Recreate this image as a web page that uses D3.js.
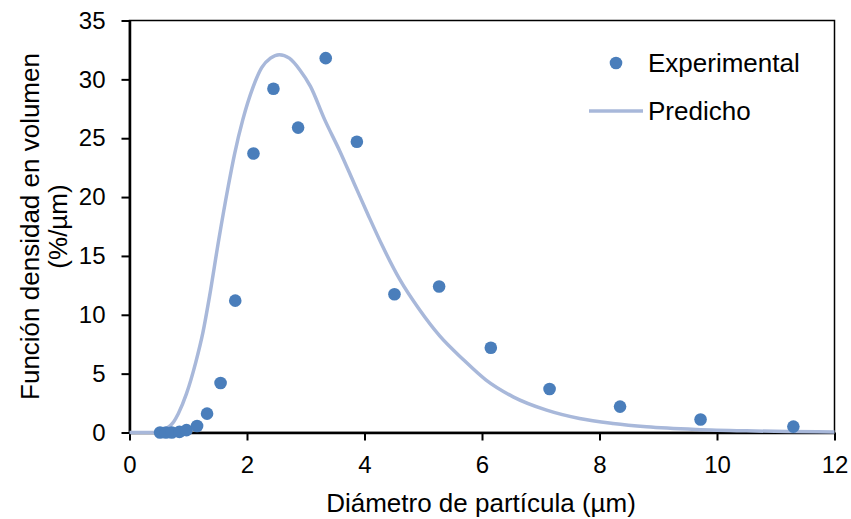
<!DOCTYPE html>
<html>
<head>
<meta charset="utf-8">
<script src="https://cdn.jsdelivr.net/npm/d3@7"></script>
<style>
  html, body { margin: 0; padding: 0; background: #fff; }
  svg { display: block; font-family: "Liberation Sans", Arial, sans-serif; }
</style>
</head>
<body>
<svg id="chart" width="851" height="519"></svg>
<script>
// Measured particle size distribution (diameter in µm, density in %/µm)
const expDiameter = [0.52, 0.62, 0.72, 0.85, 0.97, 1.15, 1.32, 1.55, 1.80, 2.11, 2.45,
                     2.87, 3.34, 3.87, 4.51, 5.27, 6.15, 7.15, 8.35, 9.72, 11.3];
const expDensity  = [0.0, 0.0, 0.0, 0.05, 0.2, 0.55, 1.6, 4.2, 11.2, 23.7, 29.2,
                     25.9, 31.8, 24.7, 11.75, 12.4, 7.2, 3.7, 2.2, 1.1, 0.5];

// Model prediction curve
const predDiameter = [0, 0.5, 0.63, 0.75, 0.83, 0.97, 1.13, 1.25, 1.36, 1.52, 1.68, 1.79,
                      1.93, 2.10, 2.25, 2.40, 2.55, 2.72, 2.90, 3.08, 3.32, 3.58, 3.82,
                      4.06, 4.30, 4.60, 4.94, 5.28, 5.68, 6.07, 6.53, 7.10, 7.66, 8.23,
                      8.80, 9.65, 10.5, 11.2, 12.0];
const predDensity  = [0, 0, 0.33, 0.9, 1.6, 3.3, 6.0, 8.5, 11.5, 16.4, 20.9, 23.7,
                      26.6, 29.3, 31.0, 31.8, 32.1, 31.8, 30.8, 29.4, 26.6, 23.9, 21.2,
                      18.5, 15.9, 13.0, 10.4, 8.2, 6.2, 4.45, 3.03, 1.9, 1.19, 0.77,
                      0.49, 0.26, 0.14, 0.08, 0.05];

const xTicks = [0, 2, 4, 6, 8, 10, 12];
const yTicks = [0, 5, 10, 15, 20, 25, 30, 35];

const xTitle = "Diámetro de partícula (µm)";
const yTitleLines = ["Función densidad en volumen", "(%/µm)"];
const legendLabels = ["Experimental", "Predicho"];

const pointColor = "#4a7ebb";
const lineColor = "#a8b8da";
const tickFont = 24;
const titleFont = 26;

const svg = d3.select("#chart");
const plot = { left: 129.5, right: 834.5, top: 20.5, bottom: 432.5 };

const x = d3.scaleLinear().domain([0, 12]).range([plot.left, plot.right]);
const y = d3.scaleLinear().domain([0, 35]).range([plot.bottom, plot.top]);

// Frame
svg.append("rect")
  .attr("x", plot.left).attr("y", plot.top)
  .attr("width", plot.right - plot.left).attr("height", plot.bottom - plot.top)
  .attr("fill", "none").attr("stroke", "#000").attr("stroke-width", 1.5);

// Axes
const xAxis = svg.append("g")
  .attr("transform", `translate(0,${plot.bottom})`)
  .call(d3.axisBottom(x).tickValues(xTicks).tickSize(8).tickSizeOuter(0).tickPadding(15));
const yAxis = svg.append("g")
  .attr("transform", `translate(${plot.left},0)`)
  .call(d3.axisLeft(y).tickValues(yTicks).tickSize(8).tickSizeOuter(0).tickPadding(16));

[xAxis, yAxis].forEach(g => {
  g.select(".domain").attr("stroke", "#000").attr("stroke-width", 2.5);
  g.selectAll(".tick line").attr("stroke", "#000").attr("stroke-width", 2);
  g.selectAll(".tick text")
    .attr("fill", "#000")
    .style("font-size", tickFont + "px")
    .style("font-family", '"Liberation Sans", Arial, sans-serif');
});

// Prediction curve
const line = d3.line()
  .x((d, i) => x(predDiameter[i]))
  .y(d => y(d))
  .curve(d3.curveMonotoneX);

svg.append("path")
  .datum(predDensity)
  .attr("d", line)
  .attr("fill", "none")
  .attr("stroke", lineColor)
  .attr("stroke-width", 3.5)
  .attr("stroke-linejoin", "round");

// Experimental points
svg.append("g")
  .selectAll("circle")
  .data(expDensity)
  .join("circle")
  .attr("cx", (d, i) => x(expDiameter[i]))
  .attr("cy", d => y(d))
  .attr("r", 6.3)
  .attr("fill", pointColor);

// Axis titles
svg.append("text")
  .attr("x", 481)
  .attr("y", 512)
  .attr("text-anchor", "middle")
  .style("font-size", titleFont + "px")
  .text(xTitle);

const yTitle = svg.append("text")
  .attr("transform", `translate(39,${(plot.top + plot.bottom) / 2}) rotate(-90)`)
  .attr("text-anchor", "middle")
  .style("font-size", titleFont + "px");
yTitleLines.forEach((t, i) => {
  yTitle.append("tspan")
    .attr("x", 0)
    .attr("dy", i === 0 ? 0 : 28)
    .text(t);
});

// Legend
const legend = svg.append("g");
legend.append("circle")
  .attr("cx", 616).attr("cy", 63).attr("r", 6.3)
  .attr("fill", pointColor);
legend.append("text")
  .attr("x", 648).attr("y", 63).attr("dy", "0.35em")
  .style("font-size", titleFont + "px")
  .text(legendLabels[0]);
legend.append("line")
  .attr("x1", 589).attr("x2", 643)
  .attr("y1", 111).attr("y2", 111)
  .attr("stroke", lineColor).attr("stroke-width", 3.5);
legend.append("text")
  .attr("x", 648).attr("y", 111).attr("dy", "0.35em")
  .style("font-size", titleFont + "px")
  .text(legendLabels[1]);
</script>
</body>
</html>
